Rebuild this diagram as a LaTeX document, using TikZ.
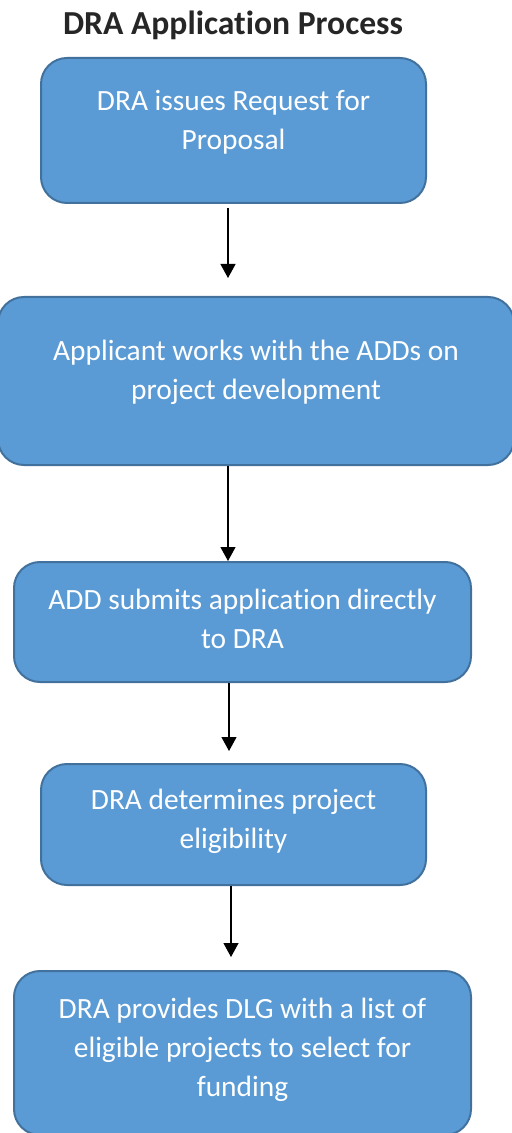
\documentclass[tikz,border=0pt]{standalone}
\usepackage{fontspec}
\setmainfont{Carlito}[Ligatures=NoCommon]
\usepackage{tikz}
\usetikzlibrary{arrows.meta}

\definecolor{boxfill}{HTML}{5B9BD5}
\definecolor{boxline}{HTML}{41719C}

\tikzset{
 stepbox/.style={draw=boxline, fill=boxfill, line width=1pt, rounded corners=13pt,
  text=white, align=center, font=\fontsize{14.7}{19.5}\selectfont},
 flowarrow/.style={line width=0.6pt, -{Triangle[width=7.5pt,length=7pt]}}
}

\begin{document}
\begin{tikzpicture}[x=0.5pt,y=-0.5pt]
 \useasboundingbox (0,0) rectangle (512,1133); % 画像の大きさ

 \node (title) at (233,35) [anchor=base, font=\bfseries\fontsize{16.8}{20}\selectfont, text=black!85] {DRA Application Process}; % 表題

 \node (rfp) at (233.5,130.5) [stepbox, minimum width=192.5pt, minimum height=72.5pt, text depth=11pt] {DRA issues Request for\\Proposal}; % 1段目
 \node (dev) at (256,381) [stepbox, minimum width=258pt, minimum height=84pt, text depth=11pt] {Applicant works with the ADDs on\\project development}; % 2段目
 \node (submit) at (242.5,622) [stepbox, minimum width=228.5pt, minimum height=60pt, text depth=3pt] {ADD submits application directly\\to DRA}; % 3段目
 \node (elig) at (233.5,824.5) [stepbox, minimum width=192.5pt, minimum height=60.5pt, text depth=6pt] {DRA determines project\\eligibility}; % 4段目
 \node (dlg) at (242.5,1053) [stepbox, minimum width=228.5pt, minimum height=82pt, text depth=6pt] {DRA provides DLG with a list of\\eligible projects to select for\\funding}; % 5段目

 \coordinate (a1) at (228,278); % 矢印の先
 \coordinate (a2) at (228,561);
 \coordinate (a3) at (229,751);
 \coordinate (a4) at (231,957);

 \draw [flowarrow] (rfp.south -| a1) ++(0,4) -- (a1);
 \draw [flowarrow] (dev.south -| a2) -- (a2);
 \draw [flowarrow] (submit.south -| a3) -- (a3);
 \draw [flowarrow] (elig.south -| a4) -- (a4);
\end{tikzpicture}
\end{document}
